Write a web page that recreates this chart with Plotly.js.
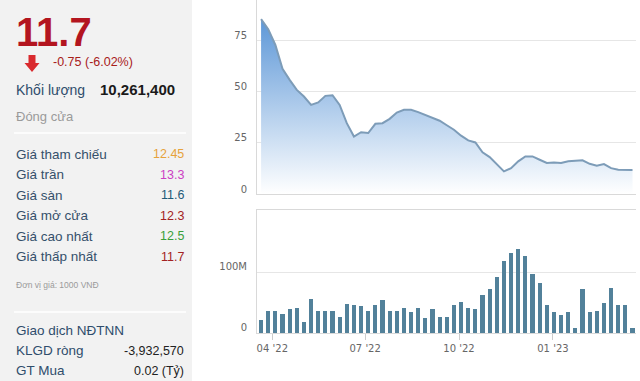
<!DOCTYPE html>
<html><head><meta charset="utf-8">
<script src="https://cdn.plot.ly/plotly-3.0.1.min.js"></script>
<style>html,body{margin:0;padding:0;background:#fff}#chart{width:640px;height:381px}</style>
</head><body><div id="chart"></div>
<script>
const weekDates = ['2022-03-21','2022-03-28','2022-04-04','2022-04-11','2022-04-18','2022-04-25','2022-05-02','2022-05-09','2022-05-16','2022-05-23',
'2022-05-30','2022-06-06','2022-06-13','2022-06-20','2022-06-27','2022-07-04','2022-07-11','2022-07-18','2022-07-25','2022-08-01',
'2022-08-08','2022-08-15','2022-08-22','2022-08-29','2022-09-05','2022-09-12','2022-09-19','2022-09-26','2022-10-03','2022-10-10',
'2022-10-17','2022-10-24','2022-10-31','2022-11-07','2022-11-14','2022-11-21','2022-11-28','2022-12-05','2022-12-12','2022-12-19',
'2022-12-26','2023-01-02','2023-01-09','2023-01-16','2023-01-23','2023-01-30','2023-02-06','2023-02-13','2023-02-20','2023-02-27',
'2023-03-06','2023-03-13','2023-03-20'];
const closePrice = [85.2,80.2,72.6,61,55.6,50.7,47.5,43.4,44.6,47.8,
48.1,43.4,34.5,28,30.1,29.7,34.2,34.5,36.6,39.7,
41,41,39.9,38.6,37.3,35.7,33.5,31.3,28.4,26.1,
25.1,20.3,18,14.3,11,12.6,15.9,18.3,18.3,16.7,
15.1,15.4,15.1,15.9,16.2,16.4,14.7,13.8,14.6,12.6,
11.8,11.7,11.7];
const volumeMillions = [22,36,36,31,39,41,19,56,36,37,
36,27,48,47,44,37,47,54,37,37,
41,34,41,24,39,27,27,47,52,41,
39,63,72,92,119,133,139,128,97,83,
46,34,29,34,8,73,34,37,49,74,
47,47,8];
const monthTicks = ['2022-04-01','2022-07-01','2022-10-01','2023-01-01'];
const monthTickText = ["04 '22","07 '22","10 '22","01 '23"];
const priceTicks = [0,25,50,75];
const volTicks = [0,100];
const volTickText = ['0','100M'];

const infoLabels = ['Giá tham chiếu','Giá trần','Giá sàn','Giá mở cửa','Giá cao nhất','Giá thấp nhất'];
const infoValues = ['12.45','13.3','11.6','12.3','12.5','11.7'];
const infoColors = ['#e6a23c','#cc3fc4','#1f5a78','#a32222','#3a9f3a','#a32222'];
const foreignLabels = ['KLGD ròng','GT Mua'];
const foreignValues = ['-3,932,570','0.02 (Tỷ)'];

const L=257, R=4, T=0, B=48, W=640, H=381;
const PW=W-L-R, PH=H-T-B;
const px=p=>(p-L)/PW, py=p=>1-(p-T)/PH;
const FONT='Liberation Sans, Arial, sans-serif';
const xRange=['2022-03-17','2023-03-23T10:00'];

const ann=[];
function txt(text,x,y,size,color,anchor,bold){
  ann.push({text:bold?'<b>'+text+'</b>':text,xref:'paper',yref:'paper',x:px(x),y:py(y),
    xanchor:anchor||'left',yanchor:'middle',showarrow:false,font:{family:FONT,size:size,color:color}});
}
txt('11.7',14,32,40,'#b3151f','left',true);
txt('-0.75 (-6.02%)',51,62,12.5,'#a8201a');
txt('Khối lượng',14,90,14,'#2f4d6c');
txt('10,261,400',98,89,15,'#1a1a1a','left',true);
txt('Đóng cửa',14,117,13,'#9a9a9a');
const rowY=[154,174.5,195,215.5,236,256.5];
infoLabels.forEach((t,i)=>{txt(t,14,rowY[i],13.5,'#35506b');txt(infoValues[i],186,rowY[i],12.5,infoColors[i],'right');});
txt('Đơn vị giá: 1000 VNĐ',14,285,8.5,'#9a9a9a');
txt('Giao dịch NĐTNN',14,330,13.5,'#2f4d6c');
const fY=[350.5,370.5];
foreignLabels.forEach((t,i)=>{txt(t,14,fY[i],13.5,'#2f4d6c');txt(foreignValues[i],186,fY[i],12.5,'#222','right');});

const shapes=[
 {type:'rect',xref:'paper',yref:'paper',x0:px(0),x1:px(192),y0:py(381),y1:py(0),fillcolor:'#f2f2f2',line:{width:0},layer:'below'},
 {type:'line',xref:'paper',yref:'paper',x0:px(14),x1:px(186),y0:py(133),y1:py(133),line:{color:'#ffffff',width:1.5}},
 {type:'line',xref:'paper',yref:'paper',x0:px(14),x1:px(186),y0:py(312),y1:py(312),line:{color:'#ffffff',width:1.5}},
 {type:'path',xref:'paper',yref:'paper',
  path:`M ${px(28.5)} ${py(55)} L ${px(35.5)} ${py(55)} L ${px(35.5)} ${py(63)} L ${px(39.5)} ${py(63)} L ${px(32)} ${py(72)} L ${px(24.5)} ${py(63)} L ${px(28.5)} ${py(63)} Z`,
  fillcolor:'#d92a2e',line:{width:0}}
];

const tickFont={family:'DejaVu Sans, Verdana, sans-serif',size:10,color:'#666'};
const priceTrace={x:weekDates,y:closePrice,type:'scatter',mode:'lines',xaxis:'x',yaxis:'y',
  line:{color:'#7d9cb8',width:2},fill:'tozeroy',
  fillgradient:{type:'vertical',start:0,stop:88,colorscale:[[0,'rgba(255,255,255,1)'],[1,'rgb(88,148,214)']]},
  hoverinfo:'skip'};
const volTrace={x:weekDates,y:volumeMillions,type:'bar',xaxis:'x2',yaxis:'y2',
  width:4*86400000,marker:{color:'#52819a',line:{width:0}},hoverinfo:'skip'};

const layout={width:W,height:H,margin:{l:L,r:R,t:T,b:B},paper_bgcolor:'#fff',plot_bgcolor:'rgba(0,0,0,0)',
  showlegend:false,shapes:shapes,annotations:ann,bargap:0,
  xaxis:{domain:[0,1],anchor:'y',type:'date',range:xRange,showline:true,linecolor:'#d9d9d9',linewidth:1,
    showticklabels:false,showgrid:false,zeroline:false,ticks:''},
  yaxis:{domain:[py(194),1],anchor:'x',range:[0,94.5],tickvals:priceTicks,gridcolor:'#e6e6e6',showline:true,
    linecolor:'#d9d9d9',zeroline:false,tickfont:tickFont,ticklabelshift:-5,ticklabelstandoff:7},
  xaxis2:{domain:[0,1],anchor:'y2',type:'date',range:xRange,showline:true,mirror:true,linecolor:'#d9d9d9',
    tickvals:monthTicks,ticktext:monthTickText,ticks:'outside',ticklen:6,tickcolor:'#cccccc',showgrid:false,
    zeroline:false,tickfont:tickFont},
  yaxis2:{domain:[0,py(210)],anchor:'x2',range:[0,203.5],tickvals:volTicks,ticktext:volTickText,gridcolor:'#e6e6e6',
    showline:true,linecolor:'#d9d9d9',zeroline:false,tickfont:tickFont,ticklabelshift:-6,ticklabelstandoff:7}
};
Plotly.newPlot('chart',[priceTrace,volTrace],layout,{staticPlot:true,displayModeBar:false});
</script></body></html>
